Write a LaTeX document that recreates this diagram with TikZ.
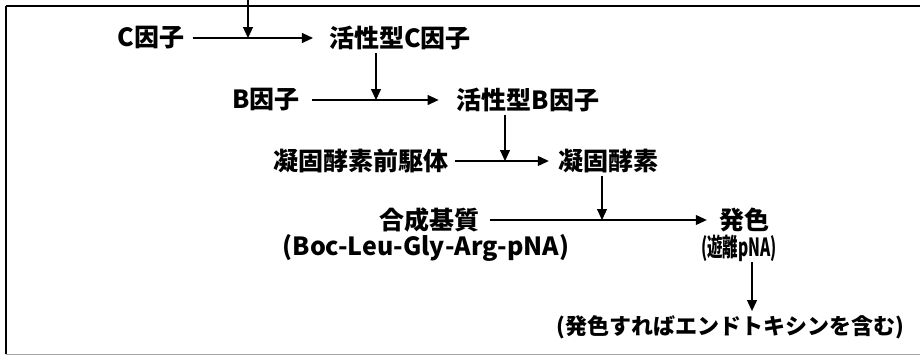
\documentclass[tikz,border=0pt]{standalone}
\usepackage{fontspec}
\newfontfamily\jp{Noto Sans CJK JP}
\usetikzlibrary{arrows.meta}
\begin{document}
\begin{tikzpicture}[x=1pt,y=-1pt,
  lbl/.style={inner sep=0pt,font=\jp\bfseries\fontsize{25}{28}\selectfont},
  sml/.style={inner sep=0pt,font=\jp\bfseries\fontsize{22}{25}\selectfont},
  arr/.style={line width=1.1pt,-{Triangle[length=11pt,width=10pt]}},
  frame/.style={line width=1.2pt}]
\useasboundingbox (0,0) rectangle (920,356);
% frame
\draw[frame] (6,6) -- (920,6);
\draw[frame] (6,6) -- (6,354);
\draw[line width=1pt,black!35] (6,354) -- (920,354);
% row 1
\node[lbl] (C) at (151,38) {C因子};
\node[lbl] (cC) at (400,38) {活性型C因子};
\coordinate (t0) at (248,0);
\coordinate (m1) at (248,38);
\draw[arr,shorten <=8pt,shorten >=16pt] (C.east) -- (cC.west);
\draw[arr] (t0) -- (m1);
% row 2
\node[lbl] (B) at (266,100) {B因子};
\node[lbl] (cB) at (528,100) {活性型B因子};
\coordinate (m2) at (376,100);
\draw[arr,shorten <=12pt,shorten >=18pt] (B.east) -- (cB.west);
\draw[arr,shorten <=3pt] (m2 |- cC.south) -- (m2);
% row 3
\node[lbl] (pre) at (361,161) {凝固酵素前駆体};
\node[lbl] (enz) at (608,161) {凝固酵素};
\coordinate (m3) at (505,161);
\draw[arr,shorten <=6pt,shorten >=9pt] (pre.east) -- (enz.west);
\draw[arr,shorten <=3pt] (m3 |- cB.south) -- (m3);
% row 4
\node[lbl] (sub) at (429,220) {合成基質};
\node[lbl] (subx) at (426,248) {(Boc-Leu-Gly-Arg-pNA)};
\node[lbl] (col) at (744,220) {発色};
\node[lbl] (colx) at (739,248) {\scalebox{0.62}[1]{(遊離pNA)}};
\coordinate (m4) at (602,220);
\draw[arr,shorten <=11pt,shorten >=12pt] (sub.east) -- (col.west);
\draw[arr,shorten <=3pt] (m4 |- enz.south) -- (m4);
% result
\node[sml] (res) at (730,327) {(発色すればエンドトキシンを含む)};
\coordinate (m5) at (752,262);
\draw[arr,shorten >=4pt] (m5) -- (m5 |- res.north);
\end{tikzpicture}
\end{document}
